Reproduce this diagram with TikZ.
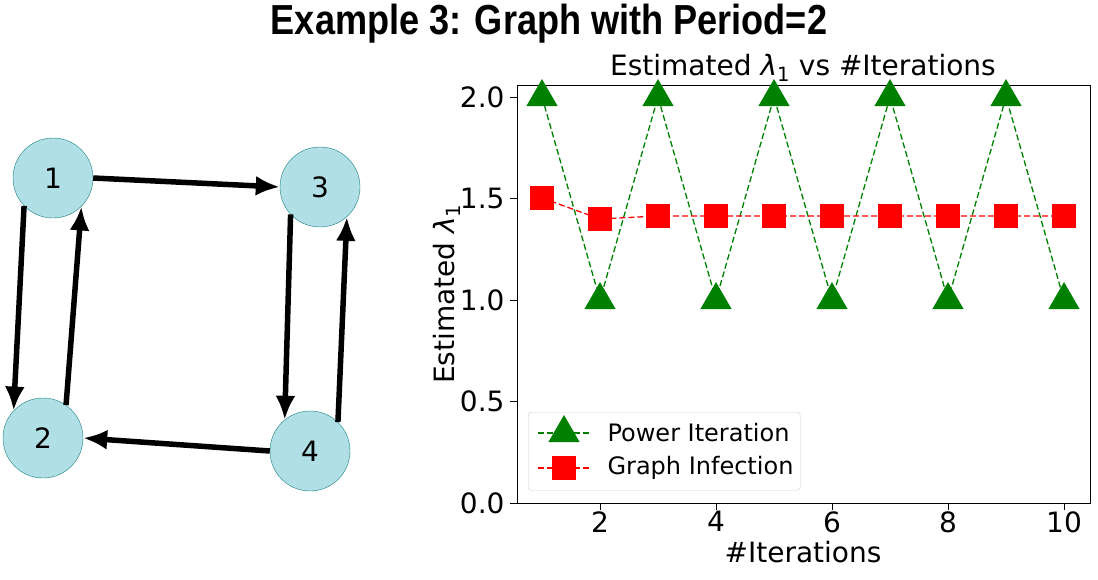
\documentclass[tikz,border=0pt]{standalone}
\usepackage{fontspec}
\setmainfont{DejaVu Sans}
\newfontfamily\titlefont{Liberation Sans}
\usetikzlibrary{shapes,positioning,arrows.meta}
\definecolor{nodefill}{HTML}{B0E0E6}
\definecolor{nodeline}{HTML}{1A8080}
\definecolor{pgreen}{HTML}{008000}
\newcommand{\lamone}{{\itshape λ}\textsubscript{1}}
\begin{document}
\begin{tikzpicture}
            [
            x=1pt, y=-1pt,
            vertex/.style={circle, draw=nodeline, fill=nodefill, minimum size=80pt,
                inner sep=0pt, font=\fontsize{28}{28}\selectfont},
            edge/.style={-{Latex[length=24pt,width=20pt]}, line width=5.5pt},
            tick label/.style={font=\fontsize{28}{28}\selectfont},
            series/.style={dash pattern=on 6pt off 3pt, line width=1.3pt},
            tri/.style={regular polygon, regular polygon sides=3, fill=pgreen,
                minimum size=36pt, inner sep=0pt},
            sq/.style={rectangle, fill=red, minimum size=24pt, inner sep=0pt}
            ]
            \useasboundingbox (0,0) rectangle (1098,579);

            \node (title) at (549,24) {\titlefont\bfseries\fontsize{42}{42}\selectfont\scalebox{0.86}[1]{Example 3: Graph with Period=2}};

            % graph
            \node (n1) [vertex] at (53,178) {1};
            \node (n3) [vertex] at (320,187) {3};
            \node (n2) [vertex] at (43,438) {2};
            \node (n4) [vertex] at (310,451) {4};

            \draw [edge] (n1.0) -- (n3.180);
            \draw [edge] (n1.224) -- (n2.137);
            \draw [edge] (n2.55) -- (n1.315);
            \draw [edge] (n3.223) -- (n4.129);
            \draw [edge] (n4.46) -- (n3.312);
            \draw [edge] (n4.180) -- (n2.0);

            % plot axes
            \draw [line width=0.8pt] (517,85) rectangle (1090,503);
            \foreach \v/\t in {0/0.0, 0.5/0.5, 1/1.0, 1.5/1.5, 2/2.0}{
                \draw (517,503-203*\v) -- (510,503-203*\v);
                \node [tick label, anchor=east] at (508,503-203*\v) {\t};
            }
            \foreach \k in {2,4,6,8,10}{
                \draw (542+58*\k-58,503) -- (542+58*\k-58,510);
                \node [tick label, anchor=north] at (542+58*\k-58,508) {\k};
            }
            \node (ptitle) at (803,68) {\fontsize{28}{28}\selectfont Estimated \lamone{} vs \#Iterations};
            \node (xlab) at (803,552) {\fontsize{28}{28}\selectfont \#Iterations};
            \node (ylab) [rotate=90] at (447,294) {\fontsize{28}{28}\selectfont Estimated \lamone};

            % data
            \draw [pgreen, series] (542,97)
                \foreach \k in {2,...,10}{ -- ({542+58*(\k-1)},{ifthenelse(mod(\k,2)==0,300,97)}) };
            \draw [red, series] (542,198) -- (600,219)
                \foreach \k in {3,...,10}{ -- ({542+58*(\k-1)},216) };
            \foreach \k in {1,...,10}{
                \node (p\k) [tri] at ({542+58*(\k-1)},{ifthenelse(mod(\k,2)==0,300,97)}) {};
            }
            \node (g1) [sq] at (542,198) {};
            \node (g2) [sq] at (600,219) {};
            \foreach \k in {3,...,10}{
                \node (g\k) [sq] at ({542+58*(\k-1)},216) {};
            }

            % legend
            \node (leg) [draw=black!20, rounded corners=3pt, fill=white, minimum width=272pt,
                minimum height=78pt, anchor=north west] at (528,412) {};
            \draw [pgreen, series] (538,433) -- (590,433);
            \node (lt) [tri] at (564,433) {};
            \node [anchor=west, font=\fontsize{24}{24}\selectfont] at (604,433) {Power Iteration};
            \draw [red, series] (538,468) -- (590,468);
            \node (ls) [sq] at (564,468) {};
            \node [anchor=west, font=\fontsize{24}{24}\selectfont] at (604,468) {Graph Infection};
        \end{tikzpicture}
\end{document}
